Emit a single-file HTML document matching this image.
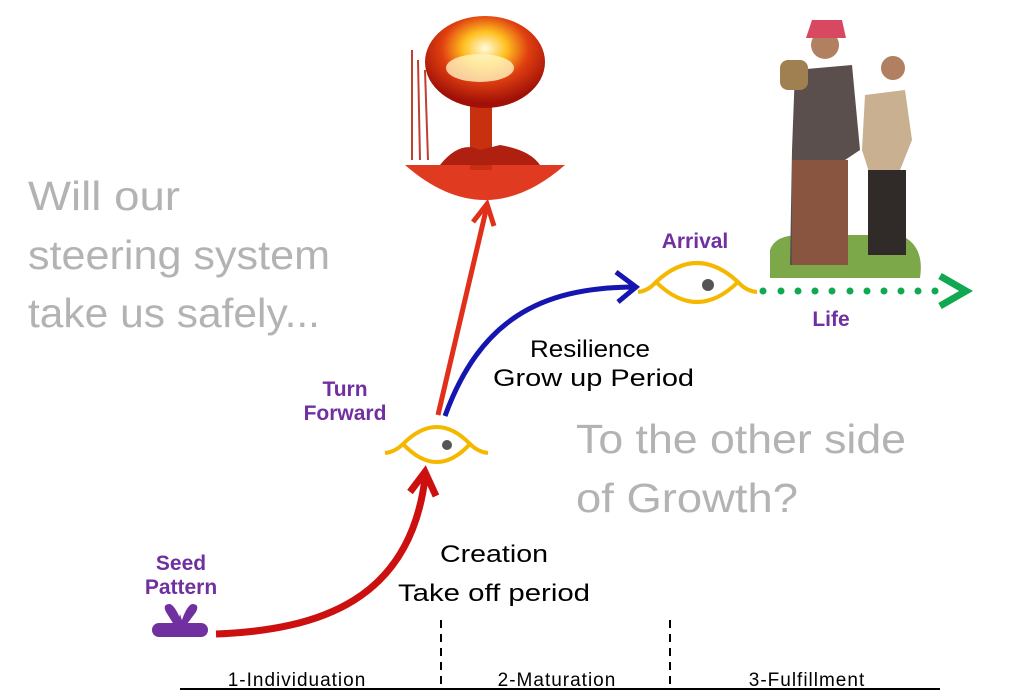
<!DOCTYPE html>
<html><head><meta charset="utf-8"><style>html,body{margin:0;padding:0;background:#fff}svg{display:block}</style></head>
<body>
<svg width="1024" height="699" viewBox="0 0 1024 699" xmlns="http://www.w3.org/2000/svg" font-family="Liberation Sans, sans-serif">
<defs>
<radialGradient id="boom" cx="0.5" cy="0.35" r="0.6">
<stop offset="0" stop-color="#fffbe0"/><stop offset="0.3" stop-color="#ffc020"/><stop offset="0.6" stop-color="#e04010"/><stop offset="1" stop-color="#a01008"/></radialGradient>
</defs>
<g fill="#b3b3b3" font-size="41">
<text x="28" y="210" textLength="152" lengthAdjust="spacingAndGlyphs">Will our</text>
<text x="28" y="269" textLength="302" lengthAdjust="spacingAndGlyphs">steering system</text>
<text x="28" y="327" textLength="292" lengthAdjust="spacingAndGlyphs">take us safely...</text>
<text x="576" y="453" textLength="330" lengthAdjust="spacingAndGlyphs">To the other side</text>
<text x="576" y="512" textLength="222" lengthAdjust="spacingAndGlyphs">of Growth?</text>
</g>
<g>
<path d="M405 165 Q485 235 565 165 Z" fill="#e03a20"/>
<rect x="470" y="95" width="22" height="75" fill="#c83010"/>
<path d="M440 165 Q460 140 480 150 L500 145 Q530 150 540 165 Z" fill="#b02010"/>
<ellipse cx="485" cy="62" rx="60" ry="46" fill="url(#boom)"/>
<ellipse cx="480" cy="68" rx="34" ry="14" fill="#fff4c0" opacity="0.8"/>
<path d="M412 50 L412 160 M418 60 L420 160 M425 70 L428 160" stroke="#c04030" stroke-width="2" fill="none"/>
</g>
<g>
<path d="M770 250 Q775 235 800 235 L900 235 Q925 245 920 278 L770 278 Z" fill="#7ca84a"/>
<path d="M795 70 L852 65 L860 150 L845 160 L848 265 L822 265 L820 170 L805 170 L800 265 L790 265 L792 150 Z" fill="#5a4f4c"/>
<rect x="792" y="160" width="56" height="105" fill="#8a5540"/>
<circle cx="825" cy="45" r="14" fill="#b08060"/>
<path d="M806 38 L846 38 L842 20 L812 20 Z" fill="#d84860"/>
<rect x="780" y="60" width="28" height="30" rx="8" fill="#a08050"/>
<path d="M865 95 L905 90 L912 140 L900 170 L905 255 L875 255 L870 175 L862 150 Z" fill="#c8b090"/>
<rect x="868" y="170" width="38" height="85" fill="#302a28"/>
<circle cx="893" cy="68" r="12" fill="#b08060"/>
</g>
<path d="M216 634 C320 630 410 600 425 478" stroke="#cc1010" stroke-width="7" fill="none"/>
<path d="M410 492 L425 472 L436 496" stroke="#cc1010" stroke-width="7" fill="none"/>
<path d="M438 415 L487 206" stroke="#e0301a" stroke-width="5" fill="none"/>
<path d="M473 222 L487 204 L494 226" stroke="#e0301a" stroke-width="5" fill="none"/>
<path d="M445 416 C480 320 540 288 632 287" stroke="#1515b0" stroke-width="5" fill="none"/>
<path d="M616 272 L636 287 L618 302" stroke="#1515b0" stroke-width="5" fill="none"/>
<g fill="#10a850">
<circle cx="763" cy="291" r="3.5"/><circle cx="781" cy="291" r="3.5"/><circle cx="798" cy="291" r="3.5"/><circle cx="815" cy="291" r="3.5"/><circle cx="832" cy="291" r="3.5"/><circle cx="850" cy="291" r="3.5"/><circle cx="867" cy="291" r="3.5"/><circle cx="884" cy="291" r="3.5"/><circle cx="901" cy="291" r="3.5"/><circle cx="918" cy="291" r="3.5"/><circle cx="935" cy="291" r="3.5"/>
</g>
<path d="M940 276 L966 291 L940 306" stroke="#10a850" stroke-width="7" fill="none"/>
<g stroke="#f5b800" stroke-width="4" fill="none">
<path d="M385 453 Q395 452 403 444 Q437 410 470 444 Q478 452 488 453"/>
<path d="M403 444 Q437 480 470 444"/>
<path d="M638 292 Q648 291 656 282 Q697 244 738 282 Q746 291 757 292"/>
<path d="M656 282 Q697 322 738 282"/>
</g>
<circle cx="447" cy="445" r="5" fill="#555"/>
<circle cx="708" cy="285" r="6" fill="#555"/>
<g fill="#7030a0">
<rect x="152" y="623" width="56" height="14" rx="7"/>
<path d="M176 628 L166 612 Q162 604 170 604 Q176 606 183 626 Z"/>
<path d="M180 626 Q186 606 192 604 Q200 604 196 612 L184 628 Z"/>
<path d="M177 627 L180 614 L184 627 Z"/>
</g>
<g fill="#7030a0" font-weight="bold" font-size="21" text-anchor="middle">
<text x="181" y="570">Seed</text>
<text x="181" y="594">Pattern</text>
<text x="345" y="396">Turn</text>
<text x="345" y="420">Forward</text>
<text x="695" y="248">Arrival</text>
<text x="831" y="326">Life</text>
</g>
<g fill="#000" font-size="24">
<text x="530" y="357" textLength="120" lengthAdjust="spacingAndGlyphs">Resilience</text>
<text x="493" y="386" textLength="201" lengthAdjust="spacingAndGlyphs">Grow up Period</text>
<text x="440" y="562" textLength="108" lengthAdjust="spacingAndGlyphs">Creation</text>
<text x="398" y="601" textLength="192" lengthAdjust="spacingAndGlyphs">Take off period</text>
</g>
<line x1="180" y1="689" x2="940" y2="689" stroke="#000" stroke-width="2"/>
<g stroke="#000" stroke-width="2" stroke-dasharray="8 6">
<line x1="441" y1="620" x2="441" y2="688"/>
<line x1="670" y1="620" x2="670" y2="688"/>
</g>
<g fill="#000" font-size="19" text-anchor="middle">
<text x="297" y="686" letter-spacing="1">1-Individuation</text>
<text x="557" y="686" letter-spacing="1">2-Maturation</text>
<text x="807" y="686" letter-spacing="1">3-Fulfillment</text>
</g>
</svg>
</body></html>
